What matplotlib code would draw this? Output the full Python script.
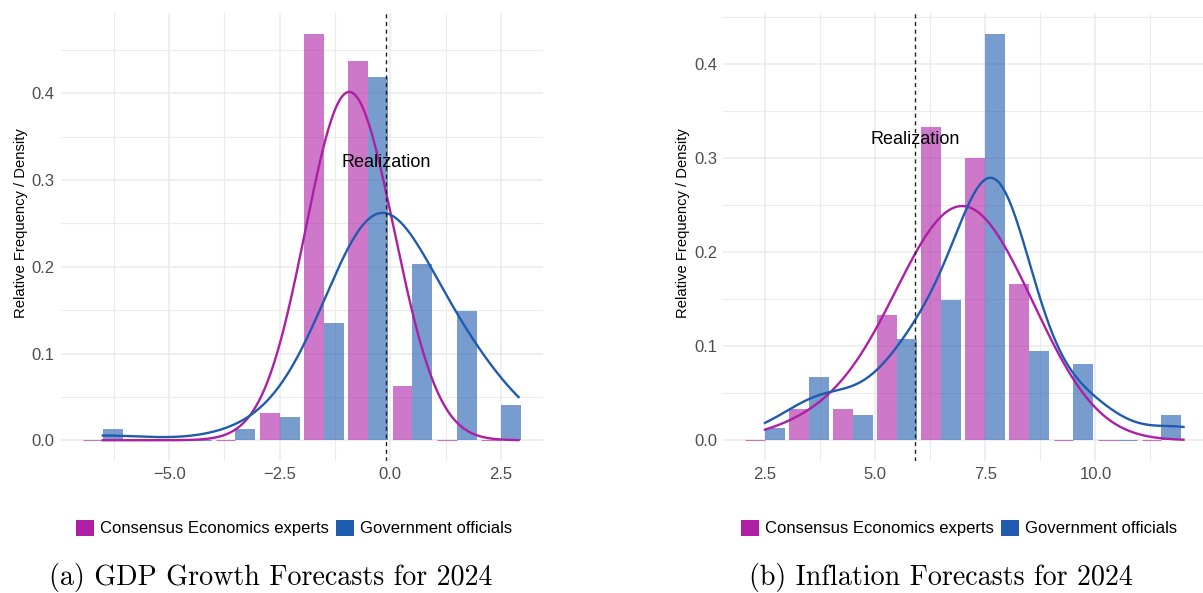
import numpy as np
import matplotlib
matplotlib.use("Agg")
import matplotlib.pyplot as plt
from matplotlib.patches import Patch
from matplotlib.ticker import MultipleLocator

plt.rcParams["font.family"] = ["Liberation Sans", "DejaVu Sans"]

# individual forecasts (percent), one value per respondent, grouped by 1pp bin
gdp_experts = [
    -2.3,
    -1.9, -1.7, -1.6, -1.5, -1.4, -1.4, -1.3, -1.3, -1.3, -1.2, -1.2, -1.2, -1.1, -1.1, -1.1,
    -0.9, -0.8, -0.8, -0.7, -0.7, -0.6, -0.5, -0.5, -0.4, -0.4, -0.3, -0.2, -0.2, -0.1,
    0.2, 0.4,
]
gdp_officials = [
    -6.5,
    -3.4,
    -2.5, -2.2,
    -1.8, -1.7, -1.5, -1.5, -1.4, -1.3, -1.3, -1.2, -1.1, -1.1,
    -0.8, -0.7, -0.6, -0.7, -0.7, -0.6, -0.6, -0.6,
    -0.5, -0.5, -0.5, -0.4, -0.4, -0.4, -0.4,
    -0.3, -0.3, -0.3, -0.3, -0.3, -0.2, -0.2, -0.2,
    -0.2, -0.1, -0.1, -0.1, -0.1, -0.1, -0.1, -0.1,
    0.1, 0.2, 0.2, 0.3, 0.4, 0.4, 0.5, 0.5, 0.6, 0.6, 0.7, 0.7, 0.8, 0.9, 0.9,
    1.3, 1.4, 1.5, 1.6, 1.6, 1.7, 1.7, 1.8, 1.8, 1.9, 1.9,
    2.5, 2.8, 2.9,
]
infl_experts = [
    3.6,
    4.5,
    5.2, 5.5, 5.7, 5.9,
    6.1, 6.2, 6.3, 6.4, 6.5, 6.5, 6.6, 6.7, 6.8, 6.9,
    7.1, 7.2, 7.3, 7.4, 7.5, 7.5, 7.6, 7.8, 7.9,
    8.1, 8.3, 8.5, 8.6, 8.9,
]
infl_officials = [
    2.5,
    3.5, 3.6, 3.7, 3.8, 3.9,
    4.3, 4.7,
    5.2, 5.4, 5.5, 5.6, 5.7, 5.8, 5.9, 5.9,
    6.1, 6.2, 6.3, 6.4, 6.5, 6.5, 6.6, 6.7, 6.8, 6.9, 6.9,
    7.2, 7.3, 7.3, 7.4, 7.4, 7.5, 7.5, 7.5, 7.5, 7.6, 7.6, 7.6, 7.6,
    7.7, 7.7, 7.7, 7.7, 7.7, 7.8, 7.8, 7.8, 7.8, 7.8, 7.8, 7.8,
    7.9, 7.9, 7.9, 7.9, 7.9, 7.9, 7.9,
    8.1, 8.1, 8.2, 8.2, 8.3, 8.5, 8.7,
    9.3, 9.5, 9.7, 9.8, 9.9, 9.9,
    11.8, 12.0,
]

gdp_bins = np.arange(-7, 4)
infl_bins = np.arange(2, 13)
gdp_actual = -0.1
infl_actual = 5.9

# kernel bandwidths for the density curves (experts, officials)
gdp_bw = (0.78, 1.0)
infl_bw = (1.12, 0.79)

PINK = "#AD1FA5"
BLUE = "#1F5BAE"
GRID = "#EBEBEB"
GROUPS = ["Consensus Economics experts", "Government officials"]


def kde(sample, grid, bw):
    sample = np.asarray(sample)[:, None]
    z = (grid[None, :] - sample) / bw
    return np.exp(-0.5 * z ** 2).sum(axis=0) / (len(sample) * bw * np.sqrt(2 * np.pi))


def panel(ax, experts, officials, bins, bws, actual, major):
    centers = (bins[:-1] + bins[1:]) / 2
    grid = np.linspace(min(experts + officials), max(experts + officials), 512)
    top = 0
    for i, (sample, color, bw) in enumerate(zip([experts, officials], [PINK, BLUE], bws)):
        counts, _ = np.histogram(sample, bins=bins)
        rel = counts / len(sample)
        top = max(top, rel.max())
        # empty bins still show up as a thin line on the baseline
        widths = [0.8 if h == 0 else 0 for h in rel]
        ax.bar(centers - 0.225 + 0.45 * i, rel, width=0.45, color=color, alpha=0.6,
               edgecolor=color, linewidth=widths, zorder=2)
        ax.plot(grid, kde(sample, grid, bw), color=color, lw=1.7, zorder=3)

    ax.axvline(actual, color="#222222", lw=1.0, dashes=(3, 2.5), zorder=4)
    ax.text(actual, 0.32, "Realization", ha="center", va="center", fontsize=13, zorder=5)

    x0, x1 = centers[0] - 0.45, centers[-1] + 0.45
    pad = 0.05 * (x1 - x0)
    ax.set_xlim(x0 - pad, x1 + pad)
    ax.set_ylim(-0.05 * top, 1.05 * top)

    ax.xaxis.set_major_locator(MultipleLocator(major))
    ax.xaxis.set_minor_locator(MultipleLocator(major / 2))
    ax.yaxis.set_major_locator(MultipleLocator(0.1))
    ax.yaxis.set_minor_locator(MultipleLocator(0.05))
    ax.xaxis.set_major_formatter(lambda v, p: f"{v:.1f}".replace("-", "\u2212"))
    ax.yaxis.set_major_formatter(lambda v, p: f"{v:.1f}")
    ax.grid(which="major", color=GRID, lw=1.1, zorder=0)
    ax.grid(which="minor", color=GRID, lw=0.8, zorder=0)
    ax.set_axisbelow(True)
    for s in ax.spines.values():
        s.set_visible(False)
    ax.tick_params(which="both", length=0, labelsize=12, labelcolor="#4D4D4D", pad=4.5)
    ax.set_ylabel("Relative Frequency / Density", fontsize=10.6)


fig = plt.figure(figsize=(12.03, 5.93), dpi=100)
ax1 = fig.add_axes([0.0507, 0.2233, 0.4004, 0.7543])
ax2 = fig.add_axes([0.6013, 0.2233, 0.3988, 0.7543])

panel(ax1, gdp_experts, gdp_officials, gdp_bins, gdp_bw, gdp_actual, 2.5)
panel(ax2, infl_experts, infl_officials, infl_bins, infl_bw, infl_actual, 2.5)
ax1.yaxis.set_label_coords(-0.0675, 0.531)
ax2.yaxis.set_label_coords(-0.0705, 0.531)

handles = [Patch(facecolor=PINK, label=GROUPS[0]), Patch(facecolor=BLUE, label=GROUPS[1])]
for cx in (294 / 1203, 959 / 1203):
    fig.legend(handles=handles, loc="center", bbox_to_anchor=(cx, 1 - 528 / 593), ncol=2,
               frameon=False, fontsize=12, handlelength=1.08, handleheight=1.08,
               handletextpad=0.34, columnspacing=0.42, borderpad=0, borderaxespad=0)

fig.text(271 / 1203, 1 - 578 / 593, "(a) GDP Growth Forecasts for 2024",
         ha="center", va="center", fontsize=20.2, family="cmr10")
fig.text(940.5 / 1203, 1 - 578 / 593, "(b) Inflation Forecasts for 2024",
         ha="center", va="center", fontsize=20.2, family="cmr10")

fig.savefig("out.png", dpi=100)
